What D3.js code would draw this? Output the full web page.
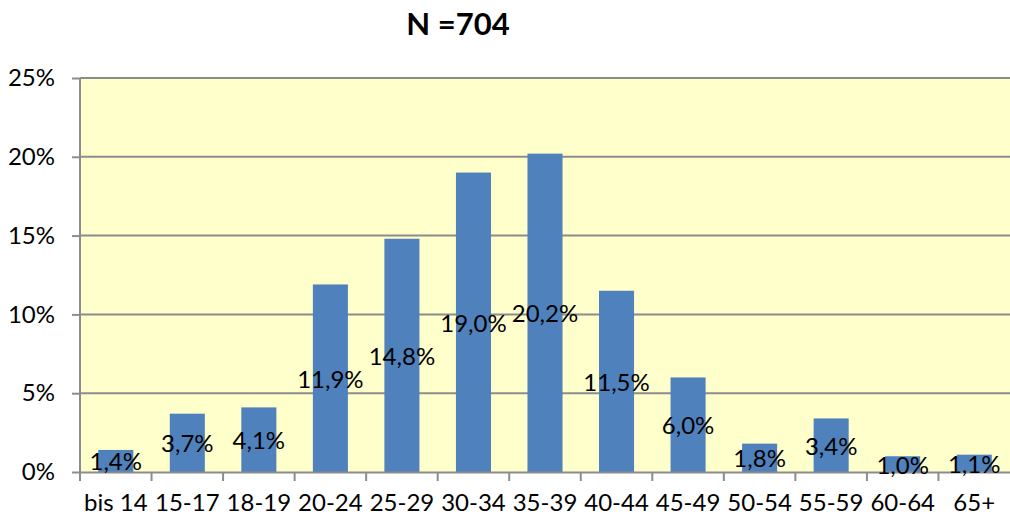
<!DOCTYPE html>
<html>
<head>
<meta charset="utf-8">
<script src="https://cdn.jsdelivr.net/npm/d3@7"></script>
<style>
  html, body { margin: 0; padding: 0; background: #fff; }
  svg { display: block; font-family: Lato, "Open Sans", "DejaVu Sans", sans-serif; }
</style>
</head>
<body>
<svg id="chart" width="1010" height="523"></svg>
<script>
// Age groups and share of respondents (%)
const categories = ["bis 14", "15-17", "18-19", "20-24", "25-29", "30-34", "35-39", "40-44", "45-49", "50-54", "55-59", "60-64", "65+"];
const shares = [1.4, 3.7, 4.1, 11.9, 14.8, 19.0, 20.2, 11.5, 6.0, 1.8, 3.4, 1.0, 1.1];
const yTicks = [0, 5, 10, 15, 20, 25];
const title = "N =704";

const svg = d3.select("#chart");
const margin = { left: 80, right: 0, top: 78, bottom: 51 };
const W = 1010, H = 523;
const fontStack = "Lato, 'Open Sans', sans-serif";

const x = d3.scaleBand().domain(categories).range([margin.left, W - margin.right]).paddingInner(0.51).paddingOuter(0.255);
const xBand = d3.scaleBand().domain(categories).range([margin.left, W - margin.right]);
const y = d3.scaleLinear().domain([0, 25]).range([H - margin.bottom, margin.top]);

const fmt = v => v.toFixed(1).replace(".", ",") + "%";

// plot background
svg.append("rect")
  .attr("x", margin.left).attr("y", margin.top)
  .attr("width", W - margin.right - margin.left)
  .attr("height", y(0) - margin.top)
  .attr("fill", "#FFFFCC");

// horizontal gridlines
svg.append("g").selectAll("line").data(yTicks.filter(d => d > 0)).join("line")
  .attr("x1", margin.left).attr("x2", W - margin.right)
  .attr("y1", d => y(d)).attr("y2", d => y(d))
  .attr("stroke", "#8c8c8c").attr("stroke-width", 2);

// bars
svg.append("g").selectAll("rect").data(shares).join("rect")
  .attr("x", (d, i) => x(categories[i]))
  .attr("width", x.bandwidth())
  .attr("y", d => y(d))
  .attr("height", d => y(0) - y(d))
  .attr("fill", "#4F81BD");

// y axis
const yAxis = d3.axisLeft(y).tickValues(yTicks).tickFormat(d => d + "%").tickSize(8).tickPadding(17);
const gy = svg.append("g").attr("transform", `translate(${margin.left},0)`).call(yAxis);
gy.select(".domain").attr("stroke", "#8c8c8c").attr("stroke-width", 2).attr("d", `M0,${margin.top}V${y(0)}`);
gy.selectAll(".tick line").attr("stroke", "#8c8c8c").attr("stroke-width", 2);
gy.selectAll(".tick text").attr("font-size", 24).attr("fill", "#000").attr("font-family", fontStack);

// x axis
const xAxis = d3.axisBottom(xBand).tickSize(0).tickPadding(22);
const gx = svg.append("g").attr("transform", `translate(0,${y(0)})`).call(xAxis);
gx.select(".domain").attr("stroke", "#8c8c8c").attr("stroke-width", 2);
gx.selectAll(".tick text").attr("font-size", 24).attr("fill", "#000").attr("font-family", fontStack);
// category boundary ticks
svg.append("g").selectAll("line").data(categories).join("line")
  .attr("x1", d => xBand(d)).attr("x2", d => xBand(d))
  .attr("y1", y(0)).attr("y2", y(0) + 9)
  .attr("stroke", "#8c8c8c").attr("stroke-width", 2);

// value labels centred within each bar
svg.append("g").selectAll("text").data(shares).join("text")
  .attr("x", (d, i) => x(categories[i]) + x.bandwidth() / 2)
  .attr("y", d => (y(d) + y(0)) / 2)
  .attr("text-anchor", "middle")
  .attr("dominant-baseline", "central")
  .attr("font-size", 24)
  .attr("fill", "#000")
  .text(fmt);

// title
svg.append("text")
  .attr("x", 458).attr("y", 35)
  .attr("text-anchor", "middle")
  .attr("font-size", 31).attr("font-weight", "bold")
  .attr("fill", "#000")
  .text(title);
</script>
</body>
</html>
